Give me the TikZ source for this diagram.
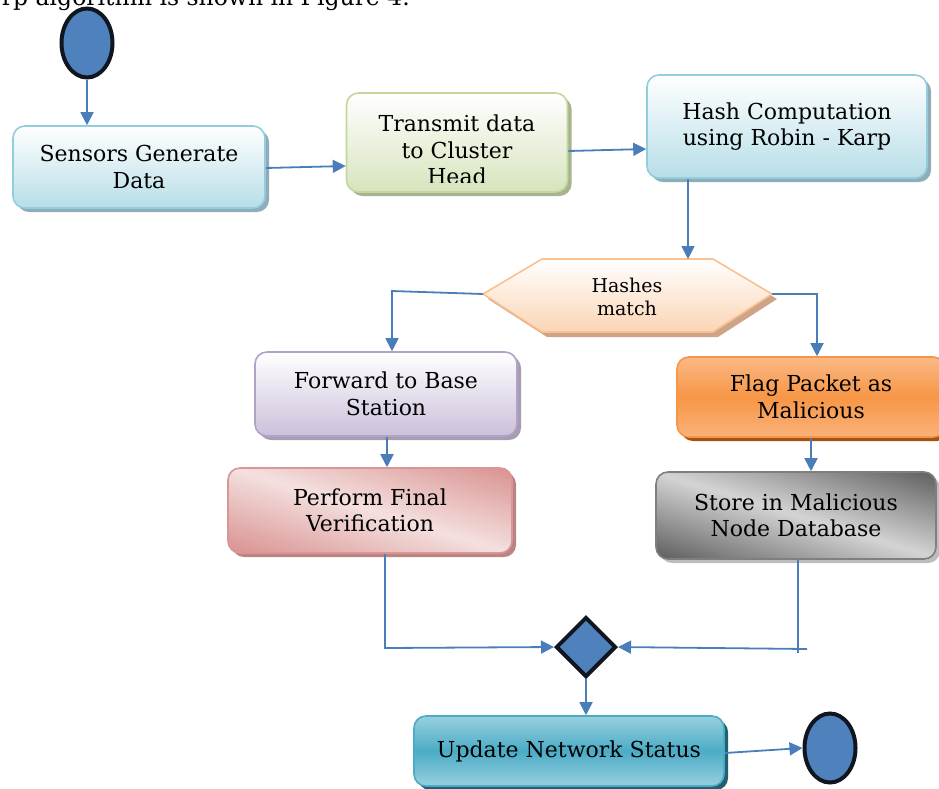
\documentclass[tikz,border=0pt]{standalone}
\usepackage{fontspec}
\setmainfont{DejaVu Serif}
\usetikzlibrary{shapes.geometric,shadows,arrows.meta,calc}

\definecolor{flowblue}{HTML}{4A7EBB}
\definecolor{termfill}{HTML}{4F81BD}
\definecolor{termline}{HTML}{0F1620}
\definecolor{aqualine}{HTML}{93CDDD}
\definecolor{aquabot}{HTML}{B7DEE8}
\definecolor{aquashadow}{HTML}{8EADB9}
\definecolor{greenline}{HTML}{C3D69B}
\definecolor{greenbot}{HTML}{D7E4BD}
\definecolor{greenshadow}{HTML}{A8B48F}
\definecolor{peachline}{HTML}{FAC090}
\definecolor{peachbot}{HTML}{FBD5B5}
\definecolor{peachshadow}{HTML}{CDA487}
\definecolor{lilacline}{HTML}{B3A2C7}
\definecolor{lilacbot}{HTML}{CCC0DA}
\definecolor{lilacshadow}{HTML}{A79CB2}
\definecolor{roseline}{HTML}{D99694}
\definecolor{rosedark}{HTML}{D68C8A}
\definecolor{roselight}{HTML}{F4E0DF}
\definecolor{roseshadow}{HTML}{B98482}
\definecolor{orangeline}{HTML}{F79646}
\definecolor{orangemid}{HTML}{F79646}
\definecolor{orangetop}{HTML}{FAB987}
\definecolor{orangebot}{HTML}{FBB27A}
\definecolor{orangeshadow}{HTML}{A5530F}
\definecolor{greyline}{HTML}{7F7F7F}
\definecolor{greydark}{HTML}{555555}
\definecolor{greylight}{HTML}{D4D4D4}
\definecolor{greyshadow}{HTML}{BDBDBD}
\definecolor{tealline}{HTML}{4BACC6}
\definecolor{tealmid}{HTML}{4BACC6}
\definecolor{teallight}{HTML}{98D0DF}
\definecolor{tealshadow}{HTML}{23606F}

\newcommand{\boxfont}{\fontsize{22}{26.5}\selectfont}
\newcommand{\hexfont}{\fontsize{19}{23}\selectfont}

% diagonal sheen behind a box: light along the falling diagonal,
% dark toward the lower left and upper right corners.
% #1,#2 = upper left corner, #3,#4 = lower right corner,
% #5 = dark colour, #6 = light colour, #7 = shadow colour
\newcommand{\sheenpanel}[7]{%
  \fill[#7, rounded corners=12pt] (#1+4,#2+4) rectangle (#3+4,#4+4);
  \begin{scope}
    \clip[rounded corners=12pt] (#1,#2) rectangle (#3,#4);
    \begin{scope}[shift={({(#1+#3)/2},{(#2+#4)/2})}, rotate=-17]
      \foreach \k in {-30,...,29}{
        \pgfmathsetmacro\mixval{100*abs(\k+0.5)/30}
        \fill[#5!\mixval!#6] (-220,\k*2.95) rectangle (220,\k*2.95+3.6);
      }
    \end{scope}
  \end{scope}}

\begin{document}
\begin{tikzpicture}[x=1pt,y=-1pt,
  box/.style={rounded corners=12pt, align=center, font=\boxfont,
    line width=1.6pt, inner sep=0pt},
  sh/.style={drop shadow={shadow xshift=4pt, shadow yshift=-4pt,
    opacity=1, fill=#1}},
  aquabox/.style={box, draw=aqualine, top color=white, bottom color=aquabot, sh=aquashadow},
  greenbox/.style={box, draw=greenline, top color=white, bottom color=greenbot, sh=greenshadow},
  lilacbox/.style={box, draw=lilacline, top color=white, bottom color=lilacbot, sh=lilacshadow},
  rosebox/.style={box, draw=roseline},
  orangebox/.style={box, draw=orangeline, top color=orangetop, bottom color=orangebot,
    middle color=orangemid, sh=orangeshadow},
  greybox/.style={box, draw=greyline},
  tealbox/.style={box, draw=tealline, top color=teallight, bottom color=teallight,
    middle color=tealmid, sh=tealshadow},
  terminal/.style={ellipse, draw=termline, fill=termfill, line width=4pt,
    minimum width=51pt, minimum height=69pt, inner sep=0pt},
  merge/.style={diamond, draw=termline, fill=termfill, line width=4pt,
    minimum width=60pt, minimum height=60pt, inner sep=0pt},
  flow/.style={draw=flowblue, line width=1.8pt},
  arr/.style={flow, -{Triangle[length=13pt,width=13pt]}}
]
\clip (0,0) rectangle (939,788);

% running text from the page above the chart
\node[anchor=base east, font=\fontsize{23.5}{26}\selectfont, inner sep=0pt]
  (caption) at (410,5) {rp algorithm is shown in Figure 4.};

% terminals
\node[terminal] (start) at (87,43) {};
\node[terminal] (stop) at (830,748) {};

% process boxes
\node[aquabox, minimum width=252pt, minimum height=82pt] (sensors) at (139,167)
  {Sensors Generate\\Data};
\node[greenbox, minimum width=221pt, minimum height=99pt] (transmit) at (457,142.5) {};
\begin{scope}
  \clip (346,93) rectangle (570,182.5);
  \node[font=\boxfont, align=center, inner sep=0pt] (transmittext) at (457,150)
    {Transmit data\\to Cluster\\Head};
\end{scope}
\node[aquabox, minimum width=280pt, minimum height=103pt] (hash) at (787,126.5)
  {Hash Computation\\using Robin - Karp};
\node[lilacbox, minimum width=262pt, minimum height=84pt] (forward) at (386,394)
  {Forward to Base\\Station};
\sheenpanel{228}{468}{512}{553}{rosedark}{roselight}{roseshadow}
\node[rosebox, minimum width=284pt, minimum height=85pt] (perform) at (370,510.5)
  {Perform Final\\Verification};
\node[orangebox, minimum width=268pt, minimum height=80pt] (flag) at (811,397)
  {Flag Packet as\\Malicious};
\sheenpanel{656}{472}{936}{559}{greydark}{greylight}{greyshadow}
\node[greybox, minimum width=280pt, minimum height=87pt] (store) at (796,515.5)
  {Store in Malicious\\Node Database};
\node[tealbox, minimum width=310pt, minimum height=70pt] (update) at (569,751)
  {Update Network Status};

% decision hexagon
\coordinate (hexL) at (483,294);
\coordinate (hexR) at (772,294);
\coordinate (hexT) at (688,259);
\fill[peachshadow] (488,299) -- (547,264) -- (718,264) -- (777,299) -- (718,337) -- (547,337) -- cycle;
\shade[top color=white, bottom color=peachbot, draw=peachline, line width=1.6pt]
  (hexL) -- (542,259) -- (713,259) -- (hexR) -- (713,332) -- (542,332) -- cycle;
\node[font=\hexfont, align=center, inner sep=0pt] (hex) at (627,297) {Hashes\\match};

% merge point
\node[merge] (join) at (586,647) {};

% connectors
\draw[arr] (start.south) -- (start.south |- sensors.north);
\draw[arr] (sensors.east |- 0,168) -- (transmit.west |- 0,166);
\draw[arr] (transmit.east |- 0,151) -- (hash.west |- 0,149);
\draw[arr] (hash.south -| hexT) -- (hexT);

\coordinate (lbend) at (392,291);
\coordinate (rbend) at (817,294);
\draw[arr] (hexL) -- (lbend) -- (lbend |- forward.north);
\draw[arr] (hexR) -- (rbend) -- (rbend |- flag.north);

\draw[arr] (forward.south -| 387,0) -- (perform.north -| 387,0);
\draw[arr] (flag.south -| 811,0) -- (store.north -| 811,0);

\coordinate (lcorner) at (385,648);
\draw[arr] (perform.south -| lcorner) -- (lcorner) -- (join.west);
\coordinate (rcorner) at (798,653);
\coordinate (rtail) at (807,649);
\draw[flow] (store.south -| rcorner) -- (rcorner);
\draw[arr] (rtail) -- (join.east);

\draw[arr] (join.south) -- (join.south |- update.north);
\draw[arr] (update.east |- 0,753) -- (stop.west);
\end{tikzpicture}
\end{document}
